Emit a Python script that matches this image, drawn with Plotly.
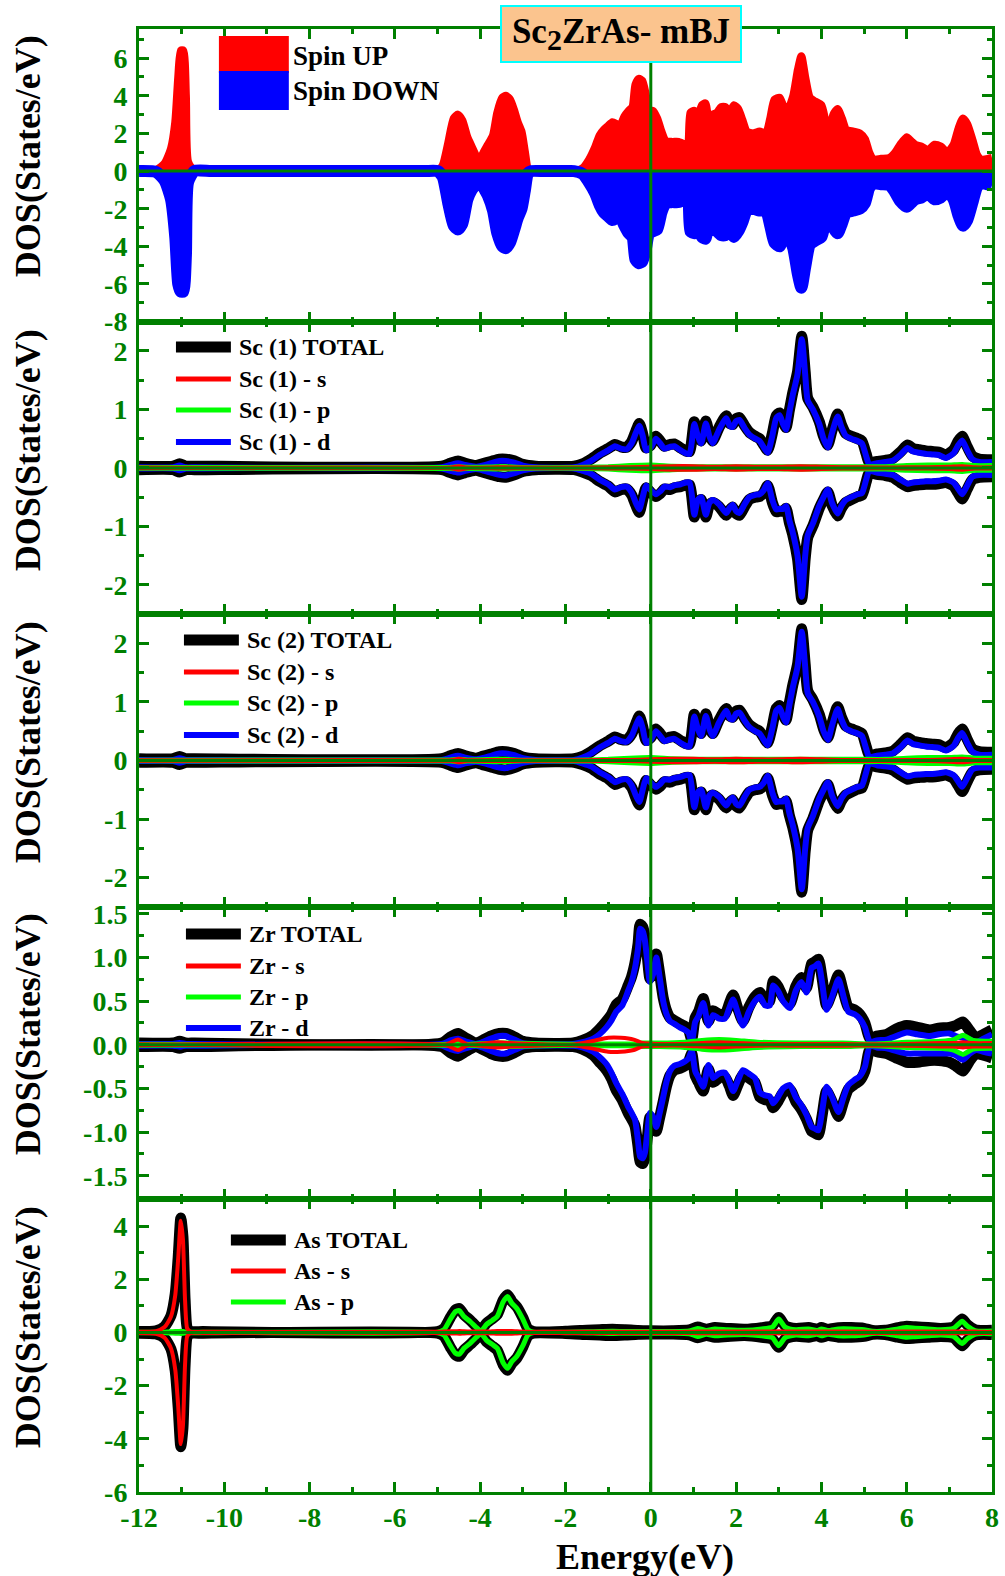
import plotly.graph_objects as go
from plotly.subplots import make_subplots

# ---------------- data ----------------
x_ticklabels = ["-12", "-10", "-8", "-6", "-4", "-2", "0", "2", "4", "6", "8"]
y1_ticklabels = ["-8", "-6", "-4", "-2", "0", "2", "4", "6"]
y2_ticklabels = ["-2", "-1", "0", "1", "2"]
y4_ticklabels = ["-1.5", "-1.0", "-0.5", "0.0", "0.5", "1.0", "1.5"]
y5_ticklabels = ["-6", "-4", "-2", "0", "2", "4"]

# Panel 1: total DOS (spin up / spin down)
e_tot = [-12, -11.6, -11.4, -11.25, -11.15, -11.08, -11.02, -10.96, -10.9, -10.85,
         -10.7, -10.3, -9.0, -7.5, -6.0, -5.3, -5.0, -4.88, -4.75, -4.62,
         -4.52, -4.42, -4.3, -4.2, -4.1, -4.02, -3.94, -3.82, -3.7, -3.6,
         -3.48, -3.4, -3.3, -3.2, -3.12, -3.03, -2.95, -2.88, -2.8, -2.5,
         -2.2, -2.0, -1.8, -1.6, -1.45, -1.3, -1.2, -1.1, -1.0, -0.9,
         -0.8, -0.72, -0.62, -0.52, -0.43, -0.36, -0.28, -0.2, -0.12, -0.04,
         0.05, 0.15, 0.25, 0.35, 0.5, 0.65, 0.8, 0.87, 0.93, 1.02,
         1.1, 1.2, 1.28, 1.36, 1.45, 1.55, 1.65, 1.75, 1.85, 1.95,
         2.05, 2.15, 2.25, 2.4, 2.55, 2.7, 2.8, 2.9, 3.02, 3.12,
         3.22, 3.34, 3.45, 3.53, 3.62, 3.73, 3.85, 4.0, 4.1, 4.18,
         4.28, 4.38, 4.48, 4.58, 4.75, 4.9, 5.02, 5.12, 5.22, 5.4,
         5.6, 5.72, 5.85, 6.0, 6.1, 6.2, 6.35, 6.5, 6.65, 6.8,
         6.95, 7.1, 7.22, 7.32, 7.42, 7.55, 7.65, 7.75, 7.9, 8.0]
tot_up = [0, 0.05, 0.4, 1.2, 2.6, 5.0, 6.4, 6.4, 4.0, 0.5,
          0, 0, 0, 0, 0, 0, 0, 0.3, 1.5, 2.8,
          3.0, 2.7, 1.8, 1.3, 0.8, 0.3, 0.9, 1.4, 1.9, 3.1,
          3.9, 4.0, 3.8, 3.2, 2.6, 2.1, 1.0, 0.1, 0, 0,
          0, 0, 0, 0.15, 0.6, 1.3, 1.9, 2.2, 2.4, 2.6,
          2.5, 2.4, 2.9, 3.2, 3.4, 4.6, 4.9, 4.8, 4.1, 3.2,
          3.2, 2.8, 2.1, 1.6, 1.55, 1.55, 1.4, 1.3, 3.1, 3.2,
          2.9, 3.5, 3.6, 2.7, 3.0, 3.1, 3.4, 3.4, 3.1, 3.5,
          3.3, 2.7, 2.1, 2.0, 2.1, 2.0, 2.8, 3.8, 3.9, 3.4,
          3.3, 4.0, 5.4, 6.1, 5.0, 3.9, 3.7, 3.5, 2.6, 2.0,
          3.0, 3.3, 2.8, 2.2, 2.1, 2.0, 1.7, 1.0, 0.6, 0.65,
          0.7, 0.95, 1.4, 1.8, 1.6, 1.4, 1.3, 1.1, 1.4, 1.3,
          1.0, 1.4, 2.3, 2.8, 2.5, 1.6, 0.85, 0.6, 0.65, 0.7]
tot_dn = [0, -0.05, -0.5, -1.5, -3.5, -6.0, -6.4, -6.4, -4.5, -0.6,
          0, 0, 0, 0, 0, 0, 0, -0.3, -1.7, -2.9,
          -3.1, -2.8, -1.5, -1.0, -0.7, -0.3, -0.8, -1.3, -2.1, -3.3,
          -4.0, -4.1, -3.8, -3.1, -2.5, -2.0, -1.0, -0.1, 0, 0,
          0, 0, 0, -0.15, -0.6, -1.2, -1.8, -2.2, -2.4, -2.6,
          -2.5, -2.4, -2.9, -3.3, -3.5, -4.7, -4.9, -4.8, -4.2, -3.3,
          -3.2, -3.1, -2.2, -1.7, -1.65, -1.65, -1.4, -1.3, -3.2, -3.3,
          -3.0, -3.5, -3.6, -2.8, -3.1, -3.2, -3.4, -3.4, -3.2, -3.5,
          -3.2, -2.7, -2.1, -2.0, -2.1, -2.1, -2.9, -3.8, -4.0, -3.5,
          -3.4, -4.1, -5.5, -6.2, -5.1, -3.9, -3.7, -3.5, -2.6, -2.0,
          -3.0, -3.3, -2.8, -2.2, -2.1, -2.0, -1.7, -0.9, -0.65, -0.7,
          -0.75, -1.1, -1.6, -1.9, -1.7, -1.5, -1.4, -1.2, -1.5, -1.4,
          -1.1, -1.5, -2.4, -2.9, -2.6, -1.6, -0.85, -0.65, -0.7, -0.75]

# Sc (1) and Sc (2)
e_sc = [-12, -11.2, -11.05, -10.9, -10.7, -4.9, -4.7, -4.52, -4.35, -4.1,
        -3.95, -3.75, -3.55, -3.4, -3.2, -3.0, -2.7, -1.8, -1.6, -1.4,
        -1.2, -1.0, -0.84, -0.7, -0.57, -0.45, -0.35, -0.27, -0.19, -0.11,
        0.0, 0.12, 0.22, 0.32, 0.45, 0.55, 0.7, 0.82, 0.91, 1.02,
        1.1, 1.18, 1.29, 1.37, 1.45, 1.6, 1.77, 1.85, 1.92, 2.0,
        2.08, 2.2, 2.31, 2.45, 2.55, 2.65, 2.74, 2.85, 2.94, 3.02,
        3.1, 3.17, 3.25, 3.33, 3.44, 3.54, 3.62, 3.68, 3.8, 3.95,
        4.05, 4.15, 4.25, 4.38, 4.47, 4.57, 4.7, 4.85, 4.95, 5.05,
        5.12, 5.3, 5.5, 5.67, 5.85, 6.02, 6.15, 6.29, 6.45, 6.6,
        6.75, 6.92, 7.1, 7.2, 7.3, 7.42, 7.54, 7.7, 8.0]
sc1_d_up = [0.01, 0.01, 0.04, 0.01, 0.01, 0.01, 0.05, 0.08, 0.05, 0.02,
            0.04, 0.08, 0.12, 0.12, 0.09, 0.04, 0.01, 0.01, 0.05, 0.12,
            0.22, 0.3, 0.37, 0.33, 0.32, 0.42, 0.6, 0.72, 0.55, 0.3,
            0.35, 0.5, 0.42, 0.33, 0.36, 0.37, 0.3, 0.25, 0.24, 0.75,
            0.55, 0.42, 0.76, 0.55, 0.42, 0.65, 0.85, 0.72, 0.7, 0.8,
            0.82, 0.68, 0.57, 0.5, 0.46, 0.35, 0.26, 0.55, 0.85, 0.9,
            0.75, 0.65, 0.95, 1.25, 1.6, 2.2, 1.6, 1.15, 1.0, 0.75,
            0.5, 0.35, 0.6, 0.88, 0.7, 0.55, 0.5, 0.46, 0.42, 0.2,
            0.06, 0.08, 0.1, 0.12, 0.22, 0.34, 0.28, 0.26, 0.24, 0.23,
            0.22, 0.17, 0.25, 0.38, 0.47, 0.3, 0.15, 0.1, 0.1]
sc1_tot_up = [0.03, 0.03, 0.07, 0.03, 0.03, 0.03, 0.08, 0.12, 0.08, 0.04,
              0.07, 0.11, 0.15, 0.15, 0.12, 0.06, 0.03, 0.03, 0.07, 0.15,
              0.25, 0.33, 0.4, 0.36, 0.35, 0.45, 0.63, 0.76, 0.58, 0.34,
              0.39, 0.54, 0.46, 0.37, 0.4, 0.41, 0.34, 0.29, 0.28, 0.79,
              0.59, 0.46, 0.8, 0.59, 0.46, 0.69, 0.89, 0.76, 0.74, 0.84,
              0.86, 0.72, 0.61, 0.54, 0.5, 0.39, 0.3, 0.59, 0.89, 0.94,
              0.79, 0.69, 0.99, 1.29, 1.64, 2.25, 1.64, 1.19, 1.04, 0.79,
              0.54, 0.39, 0.64, 0.92, 0.74, 0.59, 0.54, 0.5, 0.46, 0.24,
              0.09, 0.11, 0.13, 0.16, 0.27, 0.39, 0.33, 0.31, 0.29, 0.28,
              0.27, 0.22, 0.31, 0.45, 0.54, 0.36, 0.2, 0.15, 0.14]
sc1_d_dn = [-0.01, -0.01, -0.04, -0.01, -0.01, -0.01, -0.05, -0.08, -0.05, -0.02,
            -0.04, -0.08, -0.12, -0.13, -0.09, -0.04, -0.01, -0.01, -0.05, -0.1,
            -0.2, -0.28, -0.37, -0.33, -0.32, -0.42, -0.6, -0.71, -0.5, -0.3,
            -0.38, -0.45, -0.4, -0.32, -0.33, -0.3, -0.28, -0.25, -0.25, -0.8,
            -0.55, -0.5, -0.8, -0.6, -0.55, -0.62, -0.77, -0.68, -0.63, -0.74,
            -0.77, -0.62, -0.5, -0.46, -0.45, -0.38, -0.26, -0.55, -0.71, -0.7,
            -0.7, -0.65, -0.9, -1.11, -1.5, -2.2, -1.5, -1.15, -0.95, -0.65,
            -0.5, -0.37, -0.6, -0.78, -0.65, -0.55, -0.5, -0.45, -0.43, -0.2,
            -0.05, -0.08, -0.1, -0.12, -0.2, -0.27, -0.25, -0.24, -0.23, -0.23,
            -0.22, -0.2, -0.25, -0.35, -0.45, -0.3, -0.15, -0.12, -0.12]
sc1_tot_dn = [-0.03, -0.03, -0.07, -0.03, -0.03, -0.03, -0.08, -0.12, -0.08, -0.04,
              -0.07, -0.11, -0.15, -0.16, -0.12, -0.06, -0.03, -0.03, -0.07, -0.13,
              -0.23, -0.31, -0.41, -0.37, -0.36, -0.46, -0.64, -0.76, -0.54, -0.34,
              -0.42, -0.49, -0.44, -0.36, -0.37, -0.34, -0.32, -0.29, -0.29, -0.84,
              -0.59, -0.54, -0.84, -0.64, -0.59, -0.66, -0.81, -0.72, -0.67, -0.78,
              -0.81, -0.66, -0.54, -0.5, -0.49, -0.42, -0.3, -0.59, -0.75, -0.74,
              -0.74, -0.69, -0.94, -1.15, -1.55, -2.25, -1.55, -1.19, -0.99, -0.69,
              -0.54, -0.41, -0.64, -0.82, -0.69, -0.59, -0.54, -0.49, -0.47, -0.24,
              -0.08, -0.11, -0.13, -0.16, -0.25, -0.32, -0.3, -0.29, -0.28, -0.28,
              -0.27, -0.25, -0.31, -0.42, -0.53, -0.36, -0.2, -0.16, -0.15]
e_sc_sp = [-12, -4.7, -4.5, -4.3, -3.6, -3.4, -3.0, -1.5, -1.0, -0.5,
           0.0, 0.5, 1.0, 1.5, 2.0, 2.5, 3.0, 3.5, 4.0, 4.5,
           5.0, 5.5, 6.0, 6.5, 7.0, 7.3, 7.6, 8.0]
sc1_s_up = [0.005, 0.005, 0.03, 0.005, 0.01, 0.01, 0.005, 0.005, 0.01, 0.01,
            0.02, 0.03, 0.03, 0.02, 0.03, 0.02, 0.02, 0.03, 0.02, 0.01,
            0.01, 0.005, 0.01, 0.01, 0.02, 0.03, 0.01, 0.01]
sc1_s_dn = [-0.005, -0.005, -0.03, -0.005, -0.01, -0.01, -0.005, -0.005, -0.01, -0.01,
            -0.02, -0.03, -0.03, -0.02, -0.03, -0.02, -0.02, -0.03, -0.02, -0.01,
            -0.01, -0.005, -0.01, -0.01, -0.02, -0.03, -0.01, -0.01]
sc1_p_up = [0.005, 0.01, 0.02, 0.01, 0.02, 0.02, 0.005, 0.01, 0.02, 0.04,
            0.05, 0.03, 0.02, 0.02, 0.02, 0.02, 0.02, 0.02, 0.02, 0.02,
            0.02, 0.02, 0.04, 0.05, 0.05, 0.06, 0.04, 0.04]
sc1_p_dn = [-0.005, -0.01, -0.02, -0.01, -0.02, -0.02, -0.005, -0.01, -0.02, -0.04,
            -0.05, -0.03, -0.02, -0.02, -0.02, -0.02, -0.02, -0.02, -0.02, -0.02,
            -0.02, -0.02, -0.04, -0.05, -0.05, -0.06, -0.04, -0.04]
# Sc (2) curves read identical to Sc (1) in the picture
sc2_tot_up, sc2_tot_dn = list(sc1_tot_up), list(sc1_tot_dn)
sc2_d_up, sc2_d_dn = list(sc1_d_up), list(sc1_d_dn)
sc2_s_up, sc2_s_dn = list(sc1_s_up), list(sc1_s_dn)
sc2_p_up, sc2_p_dn = list(sc1_p_up), list(sc1_p_dn)

# Zr
e_zr = [-12, -11.2, -11.05, -10.9, -10.7, -4.9, -4.7, -4.52, -4.35, -4.1,
        -3.95, -3.75, -3.55, -3.4, -3.2, -3.0, -2.7, -1.82, -1.6, -1.35,
        -1.2, -1.04, -0.92, -0.81, -0.67, -0.53, -0.45, -0.37, -0.3, -0.25,
        -0.19, -0.14, -0.08, -0.02, 0.05, 0.13, 0.2, 0.29, 0.37, 0.45,
        0.55, 0.68, 0.8, 0.88, 0.96, 1.04, 1.12, 1.23, 1.35, 1.46,
        1.6, 1.74, 1.84, 1.93, 2.05, 2.16, 2.3, 2.44, 2.56, 2.68,
        2.79, 2.87, 2.98, 3.1, 3.26, 3.4, 3.53, 3.65, 3.77, 3.85,
        3.93, 4.02, 4.12, 4.25, 4.4, 4.52, 4.63, 4.78, 4.9, 5.02,
        5.14, 5.3, 5.53, 5.75, 6.0, 6.25, 6.54, 6.75, 7.0, 7.15,
        7.32, 7.48, 7.63, 7.8, 8.0]
zr_d_up = [0.01, 0.01, 0.02, 0.01, 0.01, 0.01, 0.05, 0.07, 0.04, 0.01,
           0.03, 0.07, 0.1, 0.1, 0.06, 0.02, 0.01, 0.01, 0.03, 0.07,
           0.12, 0.2, 0.28, 0.38, 0.45, 0.62, 0.72, 0.88, 1.1, 1.33,
           1.3, 1.2, 0.95, 0.72, 0.8, 1.0, 0.8, 0.5, 0.35, 0.27,
           0.24, 0.2, 0.17, 0.14, 0.03, 0.26, 0.33, 0.48, 0.22, 0.34,
           0.3, 0.3, 0.42, 0.52, 0.35, 0.22, 0.38, 0.5, 0.55, 0.45,
           0.45, 0.68, 0.62, 0.5, 0.42, 0.62, 0.72, 0.6, 0.88, 0.9,
           0.93, 0.7, 0.4, 0.55, 0.75, 0.55, 0.38, 0.35, 0.3, 0.2,
           0.03, 0.05, 0.06, 0.1, 0.14, 0.12, 0.1, 0.12, 0.13, 0.1,
           0.08, 0.06, 0.03, 0.07, 0.12]
zr_tot_up = [0.02, 0.02, 0.04, 0.02, 0.02, 0.02, 0.09, 0.13, 0.08, 0.02,
             0.05, 0.1, 0.13, 0.13, 0.09, 0.04, 0.02, 0.02, 0.05, 0.11,
             0.18, 0.27, 0.35, 0.46, 0.52, 0.68, 0.78, 0.94, 1.15, 1.38,
             1.35, 1.25, 1.0, 0.76, 0.84, 1.04, 0.84, 0.54, 0.39, 0.31,
             0.28, 0.24, 0.21, 0.18, 0.06, 0.31, 0.38, 0.53, 0.27, 0.39,
             0.35, 0.35, 0.47, 0.57, 0.4, 0.27, 0.43, 0.55, 0.6, 0.5,
             0.5, 0.73, 0.67, 0.55, 0.47, 0.67, 0.77, 0.65, 0.93, 0.95,
             0.98, 0.75, 0.45, 0.6, 0.8, 0.6, 0.43, 0.4, 0.35, 0.25,
             0.07, 0.1, 0.12, 0.18, 0.22, 0.2, 0.17, 0.19, 0.2, 0.22,
             0.26, 0.16, 0.08, 0.12, 0.17]
zr_d_dn = [-0.01, -0.01, -0.02, -0.01, -0.01, -0.01, -0.05, -0.07, -0.04, -0.01,
           -0.03, -0.07, -0.1, -0.1, -0.06, -0.02, -0.01, -0.01, -0.03, -0.08,
           -0.14, -0.22, -0.32, -0.44, -0.56, -0.71, -0.78, -0.86, -1.1, -1.28,
           -1.3, -1.24, -1.0, -0.78, -0.82, -0.94, -0.8, -0.6, -0.42, -0.3,
           -0.24, -0.22, -0.19, -0.16, -0.07, -0.3, -0.38, -0.48, -0.23, -0.38,
           -0.33, -0.32, -0.42, -0.53, -0.4, -0.29, -0.33, -0.38, -0.55, -0.58,
           -0.59, -0.67, -0.6, -0.5, -0.46, -0.6, -0.69, -0.8, -0.94, -0.96,
           -0.98, -0.75, -0.48, -0.6, -0.77, -0.6, -0.46, -0.4, -0.36, -0.25,
           -0.01, -0.03, -0.04, -0.07, -0.1, -0.1, -0.1, -0.1, -0.1, -0.12,
           -0.17, -0.1, -0.06, -0.08, -0.1]
zr_tot_dn = [-0.02, -0.02, -0.04, -0.02, -0.02, -0.02, -0.09, -0.13, -0.08, -0.02,
             -0.05, -0.1, -0.13, -0.13, -0.09, -0.04, -0.02, -0.02, -0.05, -0.12,
             -0.2, -0.29, -0.39, -0.52, -0.63, -0.78, -0.85, -0.93, -1.16, -1.34,
             -1.36, -1.3, -1.06, -0.83, -0.87, -0.99, -0.85, -0.65, -0.47, -0.35,
             -0.29, -0.27, -0.24, -0.2, -0.1, -0.35, -0.43, -0.53, -0.28, -0.43,
             -0.38, -0.37, -0.47, -0.58, -0.45, -0.34, -0.38, -0.43, -0.6, -0.63,
             -0.64, -0.72, -0.65, -0.55, -0.51, -0.65, -0.74, -0.85, -0.99, -1.01,
             -1.03, -0.8, -0.53, -0.65, -0.82, -0.65, -0.51, -0.45, -0.41, -0.3,
             -0.05, -0.08, -0.1, -0.15, -0.2, -0.2, -0.18, -0.18, -0.2, -0.24,
             -0.3, -0.18, -0.1, -0.12, -0.15]
e_zr_sp = [-12, -4.8, -4.52, -4.3, -3.6, -3.3, -1.8, -1.3, -1.0, -0.7,
           -0.4, -0.2, 0.2, 0.8, 1.2, 1.6, 2.0, 2.5, 3.5, 4.5,
           5.2, 6.0, 6.8, 7.1, 7.32, 7.55, 8.0]
zr_s_up = [0.005, 0.005, 0.06, 0.005, 0.03, 0.02, 0.005, 0.05, 0.08, 0.08,
           0.06, 0.02, 0.01, 0.01, 0.02, 0.03, 0.02, 0.01, 0.01, 0.01,
           0.005, 0.01, 0.02, 0.02, 0.03, 0.02, 0.02]
zr_s_dn = [-0.005, -0.005, -0.06, -0.005, -0.03, -0.02, -0.005, -0.05, -0.08, -0.08,
           -0.06, -0.02, -0.01, -0.01, -0.02, -0.03, -0.02, -0.01, -0.01, -0.01,
           -0.005, -0.01, -0.02, -0.02, -0.03, -0.02, -0.02]
zr_p_up = [0.005, 0.005, 0.02, 0.005, 0.02, 0.02, 0.005, 0.01, 0.01, 0.01,
           0.01, 0.02, 0.02, 0.03, 0.05, 0.06, 0.05, 0.03, 0.02, 0.02,
           0.01, 0.03, 0.04, 0.06, 0.11, 0.05, 0.04]
zr_p_dn = [-0.005, -0.005, -0.02, -0.005, -0.02, -0.02, -0.005, -0.01, -0.01, -0.01,
           -0.01, -0.02, -0.02, -0.03, -0.05, -0.06, -0.05, -0.03, -0.02, -0.02,
           -0.01, -0.03, -0.04, -0.06, -0.11, -0.05, -0.04]

# As
e_as = [-12, -11.6, -11.4, -11.25, -11.15, -11.08, -11.02, -10.97, -10.92, -10.87,
        -10.8, -10.5, -5.0, -4.85, -4.7, -4.58, -4.49, -4.38, -4.23, -4.1,
        -3.98, -3.85, -3.72, -3.6, -3.46, -3.36, -3.26, -3.14, -3.0, -2.88,
        -2.75, -2.0, -1.5, -1.2, -0.9, -0.6, -0.3, 0.0, 0.5, 0.9,
        1.1, 1.3, 1.5, 1.8, 2.2, 2.6, 2.85, 3.0, 3.15, 3.4,
        3.7, 3.9, 4.0, 4.15, 4.4, 4.7, 5.0, 5.2, 5.5, 5.8,
        6.0, 6.2, 6.5, 6.8, 7.1, 7.3, 7.42, 7.6, 7.8, 8.0]
as_s_up = [0.02, 0.05, 0.2, 0.6, 1.4, 2.8, 4.2, 3.5, 1.2, 0.15,
           0.03, 0.02, 0.02, 0.03, 0.04, 0.04, 0.05, 0.04, 0.03, 0.03,
           0.03, 0.03, 0.04, 0.05, 0.05, 0.05, 0.05, 0.04, 0.03, 0.02,
           0.02, 0.02, 0.02, 0.02, 0.02, 0.02, 0.02, 0.02, 0.02, 0.02,
           0.03, 0.03, 0.03, 0.03, 0.03, 0.03, 0.03, 0.04, 0.03, 0.03,
           0.03, 0.03, 0.03, 0.03, 0.03, 0.03, 0.03, 0.02, 0.02, 0.03,
           0.03, 0.03, 0.03, 0.03, 0.03, 0.04, 0.03, 0.03, 0.02, 0.02]
as_s_dn = [-0.02, -0.05, -0.2, -0.6, -1.4, -2.8, -4.2, -3.5, -1.2, -0.15,
           -0.03, -0.02, -0.02, -0.03, -0.04, -0.04, -0.05, -0.04, -0.03, -0.03,
           -0.03, -0.03, -0.04, -0.05, -0.05, -0.05, -0.05, -0.04, -0.03, -0.02,
           -0.02, -0.02, -0.02, -0.02, -0.02, -0.02, -0.02, -0.02, -0.02, -0.02,
           -0.03, -0.03, -0.03, -0.03, -0.03, -0.03, -0.03, -0.04, -0.03, -0.03,
           -0.03, -0.03, -0.03, -0.03, -0.03, -0.03, -0.03, -0.02, -0.02, -0.03,
           -0.03, -0.03, -0.03, -0.03, -0.03, -0.04, -0.03, -0.03, -0.02, -0.02]
as_p_up = [0.01, 0.01, 0.01, 0.02, 0.03, 0.03, 0.04, 0.03, 0.02, 0.01,
           0.01, 0.01, 0.01, 0.1, 0.5, 0.78, 0.82, 0.6, 0.4, 0.2,
           0.05, 0.3, 0.45, 0.6, 1.15, 1.35, 1.1, 0.9, 0.5, 0.1,
           0.01, 0.01, 0.02, 0.03, 0.04, 0.03, 0.03, 0.03, 0.03, 0.05,
           0.15, 0.07, 0.13, 0.1, 0.08, 0.13, 0.2, 0.5, 0.2, 0.1,
           0.13, 0.07, 0.13, 0.07, 0.13, 0.13, 0.1, 0.04, 0.05, 0.13,
           0.18, 0.16, 0.13, 0.1, 0.15, 0.42, 0.24, 0.07, 0.04, 0.05]
as_p_dn = [-0.01, -0.01, -0.01, -0.02, -0.03, -0.03, -0.04, -0.03, -0.02, -0.01,
           -0.01, -0.01, -0.01, -0.1, -0.5, -0.78, -0.82, -0.6, -0.4, -0.2,
           -0.05, -0.3, -0.45, -0.6, -1.15, -1.35, -1.1, -0.9, -0.5, -0.1,
           -0.01, -0.01, -0.02, -0.03, -0.04, -0.03, -0.03, -0.03, -0.03, -0.05,
           -0.15, -0.07, -0.13, -0.1, -0.08, -0.13, -0.2, -0.5, -0.2, -0.1,
           -0.13, -0.07, -0.13, -0.07, -0.13, -0.13, -0.1, -0.04, -0.05, -0.13,
           -0.18, -0.16, -0.13, -0.1, -0.15, -0.42, -0.24, -0.07, -0.04, -0.05]
as_tot_up = [0.03, 0.06, 0.22, 0.63, 1.45, 2.85, 4.3, 3.6, 1.25, 0.17,
             0.04, 0.03, 0.03, 0.14, 0.56, 0.85, 0.9, 0.66, 0.45, 0.24,
             0.09, 0.35, 0.51, 0.67, 1.22, 1.42, 1.17, 0.96, 0.55, 0.13,
             0.03, 0.04, 0.08, 0.1, 0.12, 0.1, 0.07, 0.06, 0.06, 0.09,
             0.2, 0.12, 0.18, 0.15, 0.12, 0.18, 0.25, 0.56, 0.25, 0.15,
             0.18, 0.12, 0.18, 0.12, 0.18, 0.18, 0.15, 0.07, 0.08, 0.18,
             0.23, 0.21, 0.18, 0.15, 0.2, 0.5, 0.29, 0.1, 0.07, 0.08]
as_tot_dn = [-0.03, -0.06, -0.22, -0.63, -1.45, -2.85, -4.3, -3.6, -1.25, -0.17,
             -0.04, -0.03, -0.03, -0.14, -0.56, -0.85, -0.9, -0.66, -0.45, -0.24,
             -0.09, -0.35, -0.51, -0.67, -1.22, -1.42, -1.17, -0.96, -0.55, -0.13,
             -0.03, -0.04, -0.08, -0.1, -0.12, -0.1, -0.07, -0.06, -0.06, -0.09,
             -0.2, -0.12, -0.18, -0.15, -0.12, -0.18, -0.25, -0.56, -0.25, -0.15,
             -0.18, -0.12, -0.18, -0.12, -0.18, -0.18, -0.15, -0.07, -0.08, -0.18,
             -0.23, -0.21, -0.18, -0.15, -0.2, -0.5, -0.29, -0.1, -0.07, -0.08]

legend_sc1 = ["Sc (1) TOTAL", "Sc (1) - s", "Sc (1) - p", "Sc (1) - d"]
legend_sc2 = ["Sc (2) TOTAL", "Sc (2) - s", "Sc (2) - p", "Sc (2) - d"]
legend_zr = ["Zr TOTAL", "Zr - s", "Zr - p", "Zr - d"]
legend_as = ["As TOTAL", "As - s", "As - p"]

# ---------------- style ----------------
G = "#008000"
FONT = "Liberation Serif, Times New Roman, serif"
W, H = 1005, 1576
L, R, T, B = 139, 999, 29, 1492
# visual positions measured on the reference (pixels)
VL, VR = 139, 993


def PX(x):
    # map a reference pixel x to paper coords of the rendered plot area
    return (x - VL) / (VR - VL)


def PY(y):
    return (B - y) / (B - T)


fig = make_subplots(rows=5, cols=1, shared_xaxes=True, vertical_spacing=0)


def line(x, y, color, width, row, fill=None):
    fig.add_trace(go.Scatter(x=x, y=y, mode="lines",
                             line=dict(color=color, width=width, shape="spline", smoothing=0.6),
                             fill=fill, fillcolor=color if fill else None,
                             showlegend=False, hoverinfo="skip"), row=row, col=1)


# Panel 1
line(e_tot, tot_up, "#FF0000", 8, 1, fill="tozeroy")
line(e_tot, tot_dn, "#0000FF", 12, 1, fill="tozeroy")


def pdos(row, e, tot, e_sp, s, p, d):
    line(e, tot[0], "black", 11, row)
    line(e, tot[1], "black", 11, row)
    if d is not None:
        line(e, d[0], "#0000FF", 6, row)
        line(e, d[1], "#0000FF", 6, row)
    line(e_sp, p[0], "#00FF00", 5, row)
    line(e_sp, p[1], "#00FF00", 5, row)
    line(e_sp, s[0], "#FF0000", 4, row)
    line(e_sp, s[1], "#FF0000", 4, row)


pdos(2, e_sc, (sc1_tot_up, sc1_tot_dn), e_sc_sp, (sc1_s_up, sc1_s_dn), (sc1_p_up, sc1_p_dn),
     (sc1_d_up, sc1_d_dn))
pdos(3, e_sc, (sc2_tot_up, sc2_tot_dn), e_sc_sp, (sc2_s_up, sc2_s_dn), (sc2_p_up, sc2_p_dn),
     (sc2_d_up, sc2_d_dn))
pdos(4, e_zr, (zr_tot_up, zr_tot_dn), e_zr_sp, (zr_s_up, zr_s_dn), (zr_p_up, zr_p_dn),
     (zr_d_up, zr_d_dn))
pdos(5, e_as, (as_tot_up, as_tot_dn), e_as, (as_s_up, as_s_dn), (as_p_up, as_p_dn), None)


def alias(labels):
    return {lab.replace("-", "\u2212"): lab for lab in labels if lab.startswith("-")}


tickfont = dict(family=FONT, size=28, color=G, weight="bold")
for r in range(1, 6):
    fig.update_xaxes(range=[-12, 8], showline=True, linecolor=G, linewidth=3, mirror="ticks",
                     ticks="inside", ticklen=10, tickwidth=3, tickcolor=G, dtick=2, tick0=0,
                     minor=dict(ticks="inside", ticklen=5, tickwidth=3, tickcolor=G, dtick=1),
                     showgrid=False, zeroline=False, tickfont=tickfont,
                     labelalias=alias(x_ticklabels), ticklabelstandoff=-2, row=r, col=1)

yspecs = {1: ([-8, 7.55], 2, 1, None, y1_ticklabels),
          2: ([-2.5, 2.5], 1, 0.5, None, y2_ticklabels),
          3: ([-2.5, 2.5], 1, 0.5, None, y2_ticklabels),
          4: ([-1.77, 1.58], 0.5, 0.25, ".1f", y4_ticklabels),
          5: ([-6, 5], 2, 1, None, y5_ticklabels)}
for r, (rg, dt, mdt, fmt, labs) in yspecs.items():
    fig.update_yaxes(range=rg, showline=True, linecolor=G, linewidth=3, mirror="ticks",
                     ticks="inside", ticklen=10, tickwidth=3, tickcolor=G, dtick=dt, tick0=0,
                     minor=dict(ticks="inside", ticklen=5, tickwidth=3, tickcolor=G, dtick=mdt),
                     showgrid=False, zeroline=False, tickfont=tickfont,
                     tickformat=fmt, labelalias=alias(labs), ticklabelstandoff=3, row=r, col=1)

shapes = []
for r in range(1, 6):
    yref = "y" if r == 1 else f"y{r}"
    shapes.append(dict(type="line", xref="x", yref=yref, x0=-12, x1=8, y0=0, y1=0,
                       line=dict(color=G, width=3), layer="above"))
shapes.append(dict(type="line", xref="x", yref="paper", x0=0, x1=0, y0=0, y1=1,
                   line=dict(color=G, width=3), layer="above"))

annotations = []
shapes.append(dict(type="rect", xref="paper", yref="paper", x0=PX(219), x1=PX(289),
                   y0=PY(73), y1=PY(36), fillcolor="#FF0000", line=dict(width=0), layer="above"))
shapes.append(dict(type="rect", xref="paper", yref="paper", x0=PX(219), x1=PX(289),
                   y0=PY(110), y1=PY(71), fillcolor="#0000FF", line=dict(width=0), layer="above"))
for txt, yy in [("Spin UP", 56), ("Spin DOWN", 91)]:
    annotations.append(dict(text=txt, xref="paper", yref="paper", x=PX(291), y=PY(yy),
                            xanchor="left", yanchor="middle", showarrow=False,
                            font=dict(family=FONT, size=27, color="black", weight="bold")))

colors4 = ["black", "#FF0000", "#00FF00", "#0000FF"]
widths4 = [11, 5, 5, 6]
legend_specs = [(legend_sc1, 176, 231, 237, [347, 379, 410, 442]),
                (legend_sc2, 184, 239, 245, [640, 672, 703, 735]),
                (legend_zr, 186, 241, 247, [934, 966, 997, 1028]),
                (legend_as, 231, 286, 292, [1240, 1271, 1302])]
for labels, x0, x1, xt, ys in legend_specs:
    for i, (lab, yy) in enumerate(zip(labels, ys)):
        shapes.append(dict(type="line", xref="paper", yref="paper", x0=PX(x0), x1=PX(x1),
                           y0=PY(yy), y1=PY(yy), line=dict(color=colors4[i], width=widths4[i]),
                           layer="above"))
        annotations.append(dict(text=lab, xref="paper", yref="paper", x=PX(xt), y=PY(yy),
                                xanchor="left", yanchor="middle", showarrow=False,
                                font=dict(family=FONT, size=24, color="black", weight="bold")))

for yc in [156, 450, 742, 1034, 1327]:
    annotations.append(dict(text="DOS(States/eV)", xref="paper", yref="paper", x=PX(28), y=PY(yc),
                            xanchor="center", yanchor="middle", textangle=-90, showarrow=False,
                            font=dict(family=FONT, size=36, color="black", weight="bold")))
annotations.append(dict(text="Energy(eV)", xref="paper", yref="paper", x=PX(646), y=PY(1557),
                        xanchor="center", yanchor="middle", showarrow=False,
                        font=dict(family=FONT, size=36, color="black", weight="bold")))
annotations.append(dict(text='Sc<sub><span style="font-size:30px">2</span></sub>ZrAs- mBJ',
                        xref="paper", yref="paper",
                        x=PX(622), y=PY(34), xanchor="center", yanchor="middle", showarrow=False,
                        width=238, height=54, borderpad=0, borderwidth=2,
                        bgcolor="#FBC48E", bordercolor="#00FFFF",
                        font=dict(family=FONT, size=35, color="black", weight="bold")))

fig.update_layout(width=W, height=H, margin=dict(l=L, r=W - R, t=T, b=H - B),
                  paper_bgcolor="white", plot_bgcolor="white", showlegend=False,
                  shapes=shapes, annotations=annotations)

fig.write_html("out.html")
